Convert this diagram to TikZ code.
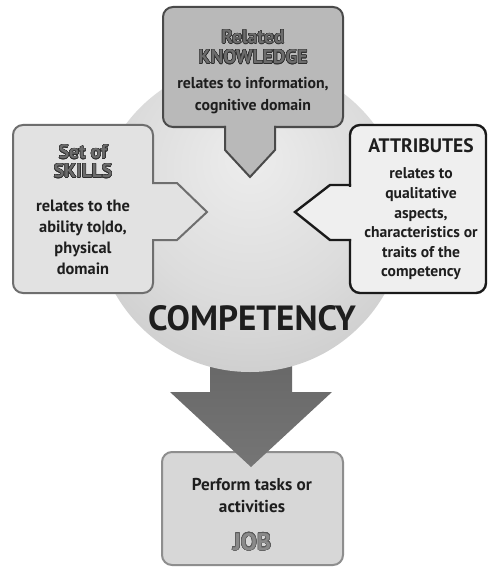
\documentclass[tikz,border=0pt]{standalone}
\usepackage{fontspec}
\setmainfont{PT Sans}
\usepackage[copies]{contour}
\contourlength{0.45pt}
\contournumber{24}
\begin{document}
\definecolor{txt}{HTML}{1E1E1E}
\definecolor{tdark}{HTML}{2E2E2E}
\definecolor{tgray}{HTML}{6C6C6C}
\definecolor{jobgray}{HTML}{8A8A8A}
\definecolor{jobdark}{HTML}{5A5A5A}
\definecolor{sphLight}{HTML}{EDEDED}
\definecolor{sphMid}{HTML}{DCDCDC}
\definecolor{sphDark}{HTML}{C3C3C3}
\definecolor{sphRim}{HTML}{A6A6A6}
\definecolor{kfill}{HTML}{B9B9B9}
\definecolor{kline}{HTML}{4A4A4A}
\definecolor{sfill}{HTML}{E2E2E2}
\definecolor{sline}{HTML}{6E6E6E}
\definecolor{afill}{HTML}{EFEFEF}
\definecolor{aline}{HTML}{1A1A1A}
\definecolor{jfill}{HTML}{D7D7D7}
\definecolor{jline}{HTML}{8E8E8E}
\definecolor{arrTop}{HTML}{646464}
\definecolor{arrBot}{HTML}{757575}
\pgfdeclareradialshading{spherefill}{\pgfpoint{0bp}{10bp}}{%
  color(0bp)=(sphLight); color(20bp)=(sphMid); color(40bp)=(sphDark);
  color(50bp)=(sphRim); color(60bp)=(sphRim)}
\begin{tikzpicture}[x=1pt,y=-1pt,
  bodytext/.style={font=\bfseries\fontsize{16}{21}\selectfont, text=txt,
    align=center, inner sep=0pt},
  titletext/.style={font=\bfseries\fontsize{19.5}{20}\selectfont, text=tgray,
    inner sep=0pt},
  boxline/.style={line width=2pt, line join=miter}]
\fill[white] (0,0) rectangle (488,567);
\useasboundingbox (0,0) rectangle (488,567);

% JOB box
\filldraw[fill=jfill, draw=jline, line width=2pt, rounded corners=10]
  (162,452) rectangle (343,565);

% big arrow from the sphere down to the job
\shade[top color=arrTop, bottom color=arrBot]
  (210,330) -- (292,330) -- (292,392) -- (332,392) -- (251,467)
  -- (170,392) -- (210,392) -- cycle;

% the sphere
\shade[shading=spherefill] (250,217) circle[radius=155];

% KNOWLEDGE box with its pointer
\fill[kfill, rounded corners=10] (163,7) rectangle (343,127);
\fill[kfill] (225,120) -- (225,150) -- (250,177) -- (275,150) -- (275,120) -- cycle;
\draw[boxline, draw=kline, rounded corners=10] (163,7) rectangle (343,127);
\fill[kfill] (226,124) rectangle (274,130);
\draw[boxline, draw=kline] (225,126) -- (225,150) -- (250,177) -- (275,150) -- (275,126);

% SKILLS box with its pointer
\fill[sfill, rounded corners=10] (13,125) rectangle (153,293);
\fill[sfill] (146,183) -- (177,183) -- (207,212) -- (177,240) -- (146,240) -- cycle;
\draw[boxline, draw=sline, rounded corners=10] (13,125) rectangle (153,293);
\fill[sfill] (150,184) rectangle (156,239);
\draw[boxline, draw=sline] (152,183) -- (177,183) -- (207,212) -- (177,240) -- (152,240);

% ATTRIBUTES box with its pointer
\fill[afill, rounded corners=10] (350,125) rectangle (486,293);
\fill[afill] (357,185) -- (330,185) -- (295,212) -- (330,240) -- (357,240) -- cycle;
\draw[boxline, draw=aline, line width=2.4pt, rounded corners=10] (350,125) rectangle (486,293);
\fill[afill] (347,186.5) rectangle (353,238.5);
\draw[boxline, draw=aline, line width=2.4pt] (351,185) -- (330,185) -- (295,212) -- (330,240) -- (351,240);

% texts
\node[titletext] (kt1) at (253,37) {\contour{tdark}{Related}};
\node[titletext] (kt2) at (253,57) {\contour{tdark}{KNOWLEDGE}};
\node[bodytext, font=\bfseries\fontsize{15.8}{22}\selectfont] (kb) at (253,96)
  {relates to information,\\cognitive domain};

\node[titletext] (st1) at (83,152) {\contour{tdark}{Set of}};
\node[titletext] (st2) at (83,171) {\contour{tdark}{SKILLS}};
\node[bodytext, font=\bfseries\fontsize{16.4}{21}\selectfont] (sb) at (83,237)
  {relates to the\\ability to|do,\\physical\\domain};

\node[titletext, text=txt] (at) at (421,146) {ATTRIBUTES};
\node[bodytext, font=\bfseries\fontsize{15.6}{19.6}\selectfont] (ab) at (421,224)
  {relates to\\qualitative\\aspects,\\characteristics or\\traits of the\\competency};

\node[font=\bfseries\fontsize{35}{38}\selectfont, text=txt, inner sep=0pt]
  (comp) at (252,318) {COMPETENCY};

\node[bodytext, font=\bfseries\fontsize{17.2}{22}\selectfont] (jb) at (252,496)
  {Perform tasks or\\activities};
\node[titletext, font=\bfseries\fontsize{24}{26}\selectfont, text=jobgray]
  (jt) at (252,542) {\contour{jobdark}{JOB}};
\end{tikzpicture}
\end{document}
